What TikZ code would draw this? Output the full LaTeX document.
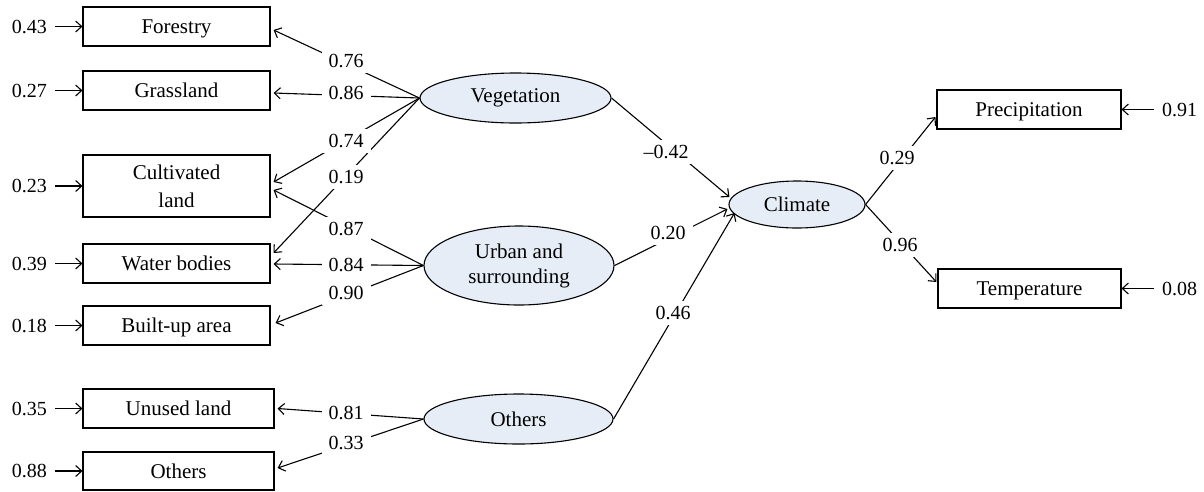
\documentclass[tikz,border=0pt]{standalone}
\usepackage{fontspec}
\setmainfont{Liberation Serif}
\usetikzlibrary{shapes.geometric,arrows.meta,calc}
\definecolor{latfill}{RGB}{230,237,246}
\begin{document}
\begin{tikzpicture}[x=1pt,y=-1pt,
  boxbase/.style={draw,line width=1.1pt,minimum height=39pt,inner sep=0pt,
    font=\fontsize{21}{28}\selectfont},
  box/.style={boxbase,text height=14pt,text depth=0pt},
  lat/.style={ellipse,draw,fill=latfill,line width=1.1pt,inner sep=0pt,
    font=\fontsize{21}{25}\selectfont,align=center},
  num/.style={font=\fontsize{20}{24}\selectfont,inner sep=0pt},
  err/.style={num,inner xsep=8pt},
  lbl/.style={num,fill=white,inner xsep=7pt,inner ysep=5pt},
  arr/.style={line width=1.1pt,-{Straight Barb[length=6pt,width=11pt,line width=1.1pt]}},
]
\useasboundingbox (0,0) rectangle (1204,491);

% observed variables (left)
\node[box,minimum width=187pt] (forestry) at (176.5,26.5) {Forestry};
\node[box,minimum width=187pt] (grass) at (176.5,90.5) {Grassland};
\node[boxbase,minimum width=187pt,minimum height=62pt,align=center] (cult) at (176.5,186) {Cultivated\\land};
\node[box,minimum width=187pt] (water) at (176.5,263.5) {Water bodies};
\node[box,minimum width=187pt] (built) at (176.5,325.5) {Built-up area};
\node[box,minimum width=191pt] (unused) at (178.5,408.5) {Unused land};
\node[box,minimum width=191pt,minimum height=38pt] (othbox) at (178.5,471) {Others};

% observed variables (right)
\node[box,minimum width=184pt] (precip) at (1029,109.5) {Precipitation};
\node[box,minimum width=183pt] (temp) at (1029.5,288.5) {Temperature};

% latent variables
\node[lat,minimum width=191pt,minimum height=50pt] (veg) at (515.5,98) {Vegetation};
\node[lat,minimum width=190pt,minimum height=79pt] (urban) at (519,265.5) {Urban and\\surrounding};
\node[lat,minimum width=189pt,minimum height=50pt] (othlat) at (518.5,419) {Others};
\node[lat,minimum width=136pt,minimum height=47pt] (climate) at (797,204.5) {Climate};

% error terms
\node[err] (e1) at (29.5,26.5) {0.43};
\node[err] (e2) at (29.5,90.5) {0.27};
\node[err] (e3) at (29.5,186) {0.23};
\node[err] (e4) at (29.5,263.5) {0.39};
\node[err] (e5) at (29.5,325.5) {0.18};
\node[err] (e6) at (29.5,408.5) {0.35};
\node[err] (e7) at (29.5,471) {0.88};
\node[err] (e8) at (1179.5,109.5) {0.91};
\node[err] (e9) at (1179.5,288.5) {0.08};

\draw[arr] (e1) -- (forestry);
\draw[arr] (e2) -- (grass);
\draw[arr] (e3) -- (cult);
\draw[arr] (e4) -- (water);
\draw[arr] (e5) -- (built);
\draw[arr] (e6) -- (unused);
\draw[arr] (e7) -- (othbox);
\draw[arr] (e8) -- (precip);
\draw[arr] (e9) -- (temp);

% loadings
\draw[arr] (veg.west) -- ($(forestry.east)+(3,3.5)$);
\draw[arr] (veg.west) -- ($(grass.east)+(3,2.5)$);
\draw[arr] (veg.west) -- ($(cult.east)+(3,-4)$);
\draw[arr] (veg.west) -- ($(water.east)+(3,-10.5)$);
\draw[arr] (urban.west) -- ($(cult.east)+(3,4)$);
\draw[arr] (urban.west) -- ($(water.east)+(3,0.5)$);
\draw[arr] (urban.west) -- ($(built.east)+(5,-2.5)$);
\draw[arr] (othlat.west) -- ($(unused.east)+(3,0)$);
\draw[arr] (othlat.west) -- ($(othbox.east)+(3,-3)$);

% structural paths
\draw[arr] (veg.east) -- ($(climate.west)+(1,-7.5)$);
\draw[arr] (urban.east) -- ($(climate.west)+(-1,4.5)$);
\draw[arr] (othlat.east) -- ($(climate.west)+(6,8.5)$);
\draw[arr] (climate.east) -- ($(precip.west)+(-1,7.5)$);
\draw[arr] (climate.east) -- ($(temp.west)+(-1,-6.5)$);

% coefficient labels
\node[lbl] (l1) at (346,61) {0.76};
\node[lbl] (l2) at (346,93) {0.86};
\node[lbl] (l3) at (346,141) {0.74};
\node[lbl] (l4) at (346,177) {0.19};
\node[lbl] (l5) at (346,229) {0.87};
\node[lbl] (l6) at (346,265) {0.84};
\node[lbl] (l7) at (346,293) {0.90};
\node[lbl] (l8) at (346,413) {0.81};
\node[lbl] (l9) at (346,443) {0.33};
\node[lbl] (l10) at (666,152) {\textendash0.42};
\node[lbl] (l11) at (668,233) {0.20};
\node[lbl] (l12) at (673,313) {0.46};
\node[lbl] (l13) at (897,158) {0.29};
\node[lbl] (l14) at (900,245) {0.96};
\end{tikzpicture}
\end{document}
